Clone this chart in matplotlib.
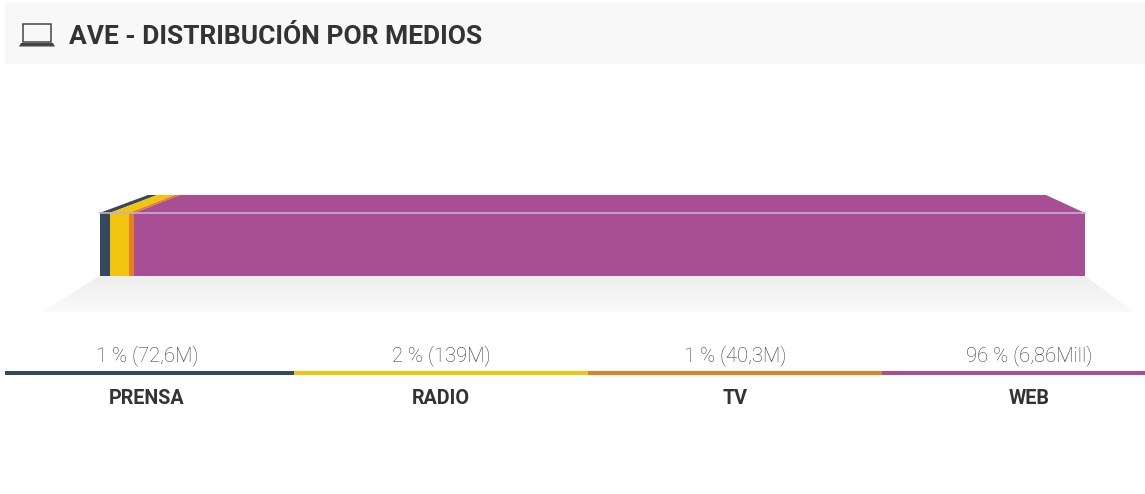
import numpy as np
import matplotlib
matplotlib.use("Agg")
import matplotlib.pyplot as plt
from matplotlib.patches import Polygon, Rectangle

TITLE = "AVE - DISTRIBUCIÓN POR MEDIOS"
CATEGORIES = ["PRENSA", "RADIO", "TV", "WEB"]
VALUES = [72.6, 139, 40.3, 6860]  # millions
LABELS = ["1 % (72,6M)", "2 % (139M)", "1 % (40,3M)", "96 % (6,86Mill)"]
COLORS = ["#34495e", "#f1c40f", "#e67e22", "#a84e95"]

W, H = 1145, 494
TEXT_DARK = "#333333"

plt.rcParams["font.family"] = ["Roboto", "DejaVu Sans"]

# whole figure is one axes in pixel units, y pointing down
fig = plt.figure(figsize=(W / 100, H / 100), dpi=100)
ax = fig.add_axes([0, 0, 1, 1])
ax.set_xlim(0, W)
ax.set_ylim(H, 0)
ax.axis("off")

# header band
ax.add_patch(Rectangle((5, 3), W - 5, 61, fc="#f8f8f8", ec="none"))
ax.text(69, 35, TITLE, fontsize=19, fontweight="bold", color=TEXT_DARK,
        va="center_baseline", ha="left")

# laptop icon
ax.add_patch(Rectangle((23, 24.5), 28, 17.5, fc="none", ec="#444444", lw=1.1))
ax.add_patch(Polygon([(21, 43), (53, 43), (55, 46.5), (19, 46.5)], fc="#444444", ec="none"))

# floor shadow under the bar
BAR_L, BAR_R = 99.5, 1085
BAR_TOP, BAR_BOTTOM = 213, 276
floor = Polygon([(BAR_L, BAR_BOTTOM), (BAR_R, BAR_BOTTOM), (1134, 312), (42, 312)],
                fc="none", ec="none")
ax.add_patch(floor)
grad = np.linspace(0, 1, 64).reshape(-1, 1)
img = ax.imshow(grad, cmap=matplotlib.colors.LinearSegmentedColormap.from_list(
    "floor", ["#eeeeee", "#fafafa"]), extent=(42, 1134, 312, BAR_BOTTOM),
    aspect="auto", zorder=1)
img.set_clip_path(floor)
ax.set_xlim(0, W)
ax.set_ylim(H, 0)

# stacked bar: front face and receding top face, both from the shares
TOP_L, TOP_R, TOP_Y = 148, 1046, 195
shares = np.array(VALUES) / np.sum(VALUES)
edges = np.concatenate([[0], np.cumsum(shares)])
for i, color in enumerate(COLORS):
    x0 = BAR_L + edges[i] * (BAR_R - BAR_L)
    x1 = BAR_L + edges[i + 1] * (BAR_R - BAR_L)
    ax.add_patch(Rectangle((x0, BAR_TOP), x1 - x0, BAR_BOTTOM - BAR_TOP,
                           fc=color, ec="none", zorder=2))
    t0 = TOP_L + edges[i] * (TOP_R - TOP_L)
    t1 = TOP_L + edges[i + 1] * (TOP_R - TOP_L)
    ax.add_patch(Polygon([(x0, BAR_TOP), (x1, BAR_TOP), (t1, TOP_Y), (t0, TOP_Y)],
                         fc=color, ec="none", zorder=2))
ax.plot([BAR_L, BAR_R], [BAR_TOP, BAR_TOP], color="#c9aec5", lw=1.2, zorder=3)

# legend row
CELL = 294.1
for i, (cat, label, color) in enumerate(zip(CATEGORIES, LABELS, COLORS)):
    x0 = max(i * CELL, 5)
    x1 = min((i + 1) * CELL, W)
    ax.add_patch(Rectangle((x0, 371), x1 - x0, 4, fc=color, ec="none"))
    xc = (i + 0.5) * CELL
    ax.text(xc, 356, label, fontsize=14.6, fontweight="light", color="#3c3c3c",
            ha="center", va="center")
    ax.text(xc, 398, cat, fontsize=14.2, fontweight="bold", color=TEXT_DARK,
            ha="center", va="center")

fig.savefig("out.png", dpi=100, facecolor="white")
